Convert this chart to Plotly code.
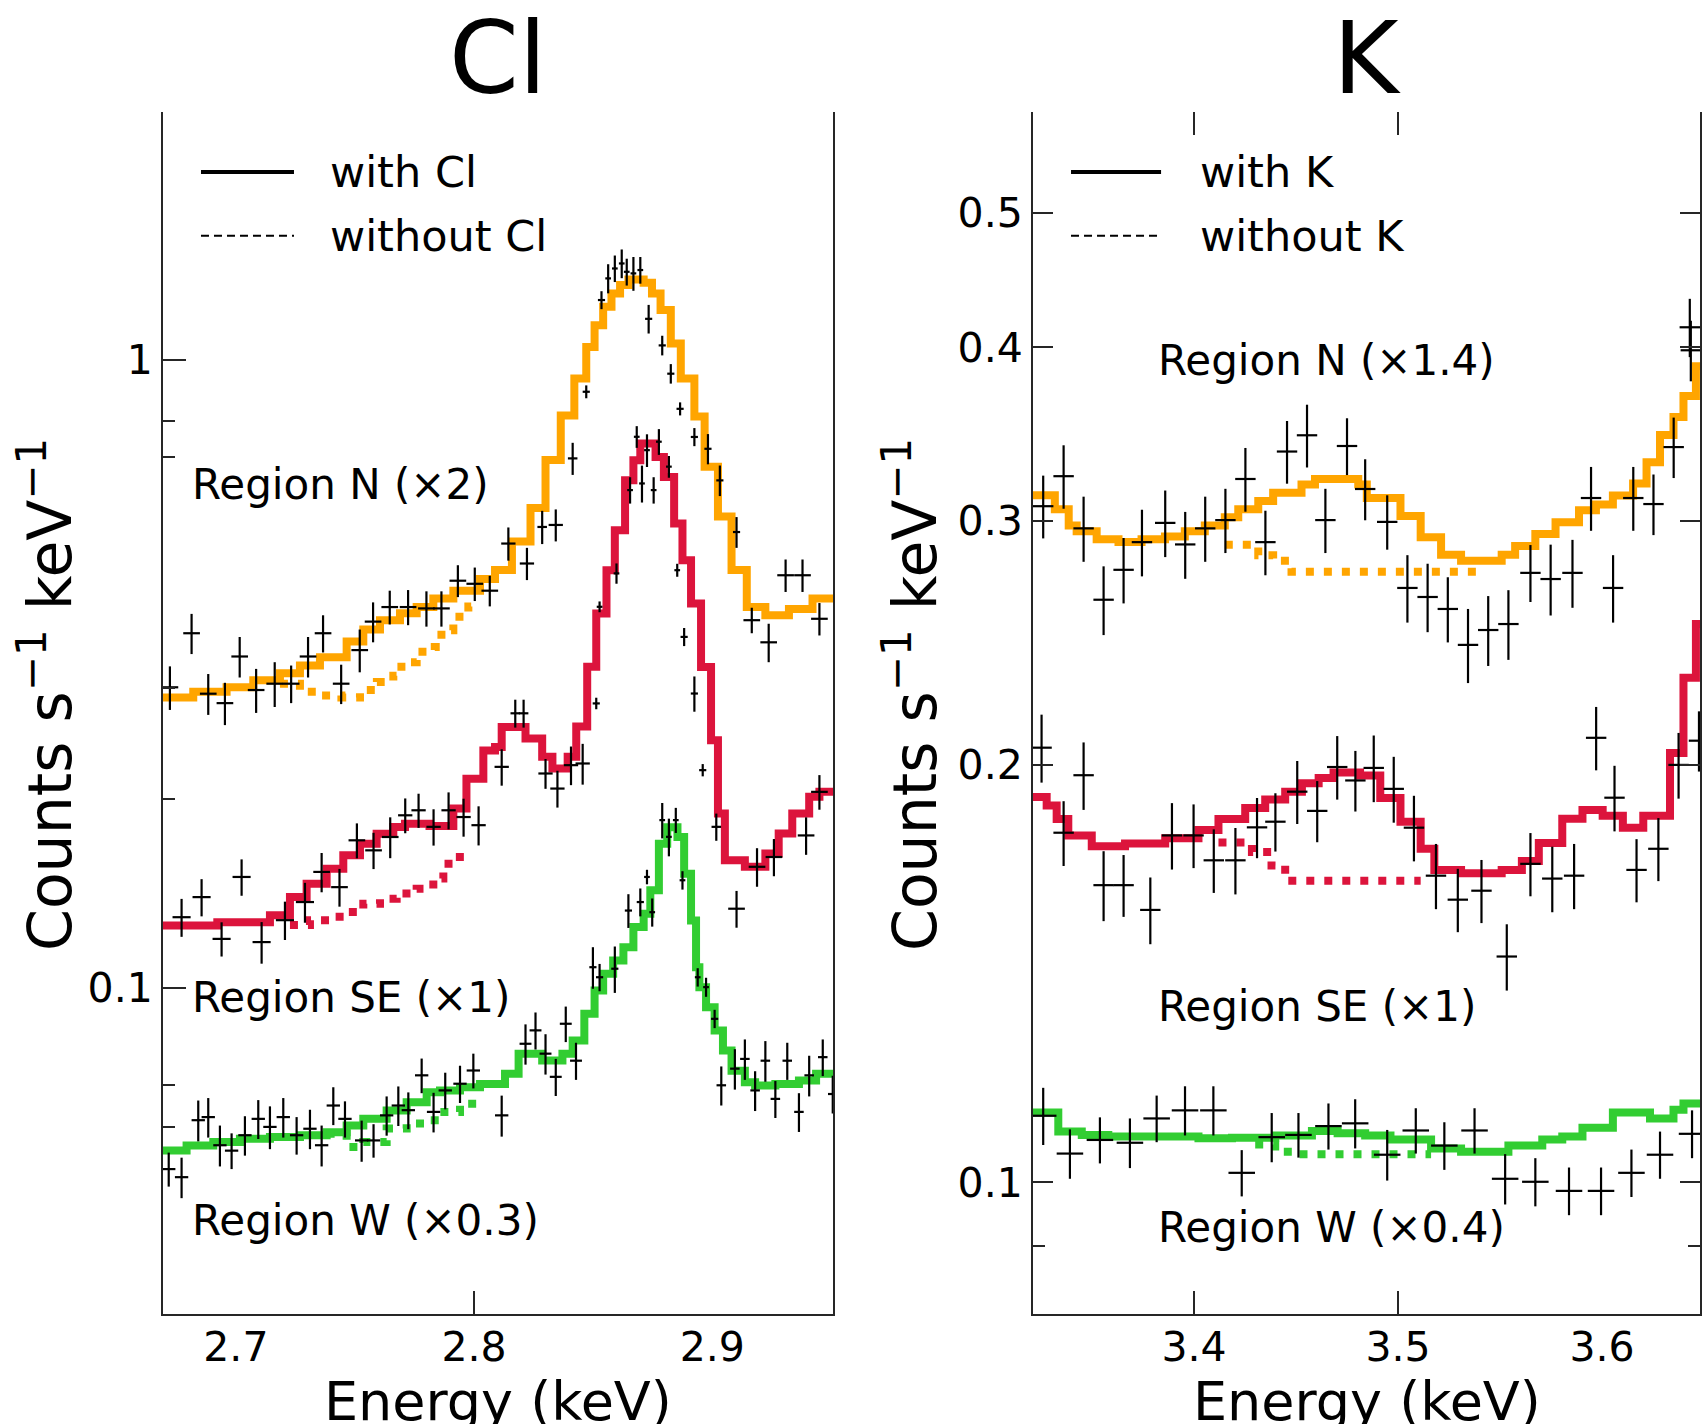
import plotly.graph_objects as go

FONT = "DejaVu Sans"
ORANGE = "#FFA500"
CRIMSON = "#DC143C"
GREEN = "#32CD32"
AXIS = "#262626"
DOTS = "8px,10px"

# ------------------------------------------------------------------ Cl band
cl_xrange = [2.6694, 2.9507]
cl_ylog = [-1.5199, 0.3951]
cl_xticks = [2.7, 2.8, 2.9]
cl_xmarks = [2.8]
cl_yticks = [0.1, 1]
cl_yminor = [0.06, 0.07, 0.2, 0.3, 0.7, 0.8]

# Region N (x2): model with Cl (bin edges in keV, one more edge than values)
cl_n_edges = [2.6681, 2.6821, 2.6961, 2.7073, 2.7185, 2.7269, 2.7353, 2.7465, 2.7535,
              2.7605, 2.7689, 2.7759, 2.7829, 2.7913, 2.8025, 2.8088, 2.8159, 2.8237,
              2.8300, 2.8364, 2.8421, 2.8471, 2.8506, 2.8542, 2.8577, 2.8613, 2.8648,
              2.8712, 2.8747, 2.8783, 2.8826, 2.8868, 2.8925, 2.8968, 2.9024, 2.9081,
              2.9145, 2.9223, 2.9322, 2.9421, 2.9510]
cl_n_model = [0.290, 0.296, 0.301, 0.309, 0.317, 0.326, 0.336, 0.356, 0.372,
              0.385, 0.395, 0.404, 0.417, 0.429, 0.448, 0.463, 0.514, 0.581,
              0.693, 0.816, 0.934, 1.049, 1.136, 1.216, 1.276, 1.317, 1.344,
              1.327, 1.276, 1.201, 1.062, 0.934, 0.813, 0.676, 0.563, 0.463,
              0.404, 0.392, 0.401, 0.417]
# Region N (x2): model without Cl
cl_n_nocl_edges = [2.7185, 2.7269, 2.7353, 2.7443, 2.7521, 2.7592, 2.7661, 2.7695,
                   2.7759, 2.7835, 2.7863, 2.7913, 2.7976, 2.8025]
cl_n_nocl = [0.305, 0.296, 0.292, 0.290, 0.298, 0.307, 0.314, 0.330,
             0.343, 0.349, 0.371, 0.390, 0.405]
# Region N (x2): data
cl_n_e = [2.6723, 2.6814, 2.6884, 2.6954, 2.7016, 2.7085, 2.7163, 2.7232, 2.7303, 2.7366,
          2.7442, 2.7520, 2.7576, 2.7646, 2.7723, 2.7800, 2.7863, 2.7932, 2.8003, 2.8066,
          2.8144, 2.8222, 2.8286, 2.8343, 2.8414, 2.8471, 2.8535, 2.8563, 2.8591, 2.8620,
          2.8641, 2.8669, 2.8698, 2.8733, 2.8790, 2.8826, 2.8865, 2.8925, 2.8982, 2.9032,
          2.9102, 2.9166, 2.9237, 2.9308, 2.9379, 2.9450]
cl_n_de = [0.0035] * 20 + [0.003, 0.003, 0.002, 0.003, 0.002, 0.0015, 0.0015,
           0.0012, 0.0012, 0.0012, 0.0012, 0.0012, 0.0012, 0.0015, 0.0015, 0.0015,
           0.0015, 0.0015, 0.0015, 0.0015, 0.0015, 0.0035, 0.0035, 0.0035, 0.0035, 0.0035]
cl_n_rate = [0.301, 0.367, 0.294, 0.284, 0.337, 0.298, 0.305, 0.305, 0.337, 0.367,
             0.305, 0.345, 0.383, 0.404, 0.404, 0.402, 0.402, 0.445, 0.440, 0.429,
             0.510, 0.474, 0.542, 0.546, 0.697, 0.890, 1.246, 1.349, 1.399, 1.425,
             1.382, 1.374, 1.391, 1.163, 1.055, 0.951, 0.836, 0.754, 0.722, 0.643,
             0.532, 0.385, 0.355, 0.454, 0.454, 0.387]
cl_n_err = [0.024, 0.027, 0.022, 0.022, 0.025, 0.024, 0.025, 0.021, 0.025, 0.025,
            0.022, 0.027, 0.028, 0.025, 0.026, 0.026, 0.026, 0.026, 0.027, 0.024,
            0.031, 0.028, 0.033, 0.032, 0.041, 0.021, 0.041, 0.072, 0.068, 0.075,
            0.068, 0.085, 0.068, 0.061, 0.038, 0.034, 0.020, 0.025, 0.040, 0.036,
            0.030, 0.018, 0.025, 0.027, 0.027, 0.023]

# Region SE (x1): model with Cl
cl_se_edges = [2.6681, 2.6922, 2.7143, 2.7227, 2.7297, 2.7381, 2.7451, 2.7521, 2.7591,
               2.7661, 2.7710, 2.7813, 2.7913, 2.7968, 2.8039, 2.8088, 2.8116, 2.8216,
               2.8286, 2.8329, 2.8393, 2.8429, 2.8475, 2.8513, 2.8556, 2.8591, 2.8634,
               2.8669, 2.8698, 2.8762, 2.8797, 2.8840, 2.8875, 2.8911, 2.8953, 2.8995,
               2.9024, 2.9053, 2.9137, 2.9223, 2.9279, 2.9336, 2.9407, 2.9450, 2.9510]
cl_se_model = [0.1256, 0.1271, 0.1304, 0.1395, 0.1464, 0.1547, 0.1625, 0.1696, 0.1759,
               0.1803, 0.1825, 0.1810, 0.1929, 0.2153, 0.2388, 0.2418, 0.2603, 0.2494,
               0.2332, 0.2234, 0.2332, 0.2606, 0.3246, 0.3946, 0.4625, 0.5357, 0.6433,
               0.6925, 0.7361, 0.7008, 0.6510, 0.5487, 0.4797, 0.4092, 0.3244, 0.2479,
               0.1894, 0.1596, 0.1558, 0.1636, 0.1761, 0.1894, 0.2014, 0.2051]
# Region SE (x1): model without Cl
cl_se_nocl_edges = [2.7227, 2.7311, 2.7395, 2.7465, 2.7535, 2.7605, 2.7675, 2.7759,
                    2.7829, 2.7871, 2.7920, 2.7970]
cl_se_nocl = [0.1258, 0.1281, 0.1297, 0.1320, 0.1361, 0.1386, 0.1412, 0.1438,
              0.1492, 0.1576, 0.1615]
# Region SE (x1): data
cl_se_e = [2.6772, 2.6856, 2.6940, 2.7024, 2.7108, 2.7206, 2.7290, 2.7360, 2.7435, 2.7508,
           2.7578, 2.7648, 2.7711, 2.7767, 2.7830, 2.7893, 2.7956, 2.8019, 2.8116, 2.8173,
           2.8208, 2.8300, 2.8350, 2.8407, 2.8456, 2.8513, 2.8527, 2.8598, 2.8655, 2.8683,
           2.8705, 2.8726, 2.8754, 2.8776, 2.8818, 2.8853, 2.8882, 2.8925, 2.8960, 2.9017,
           2.9102, 2.9188, 2.9259, 2.9394, 2.9450]
cl_se_de = [0.0038] * 7 + [0.0035] * 5 + [0.003] * 7 + [0.002, 0.002] + [0.003] * 4 + \
           [0.0015] + [0.0012] * 10 + [0.0015, 0.0015, 0.0015, 0.002] + [0.0035] * 5
cl_se_rate = [0.1295, 0.1394, 0.1196, 0.1501, 0.1182, 0.1281, 0.1369, 0.1529, 0.1446, 0.1717,
              0.1655, 0.1738, 0.1882, 0.1917, 0.1804, 0.1917, 0.1870, 0.1815, 0.2248, 0.2736,
              0.2736, 0.2194, 0.2076, 0.2262, 0.2276, 0.2837, 0.4044, 0.4571, 0.6205, 0.7545,
              0.6358, 0.7184, 0.6205, 0.7410, 0.6762, 0.4625, 0.3621, 0.2942, 0.2221, 0.1804,
              0.1336, 0.1558, 0.1615, 0.1748, 0.2051]
cl_se_err = [0.0090, 0.0095, 0.0075, 0.0100, 0.0090, 0.0090, 0.0100, 0.0110, 0.0100, 0.0110,
             0.0110, 0.0130, 0.0120, 0.0120, 0.0120, 0.0130, 0.0130, 0.0130, 0.0150, 0.0140,
             0.0140, 0.0120, 0.0140, 0.0160, 0.0170, 0.0060, 0.0080, 0.0170, 0.0300, 0.0300,
             0.0430, 0.0430, 0.0300, 0.0350, 0.0270, 0.0110, 0.0120, 0.0190, 0.0050, 0.0090,
             0.0090, 0.0110, 0.0110, 0.0120, 0.0130]

# Region W (x0.3): model with Cl
cl_w_edges = [2.6681, 2.6793, 2.6905, 2.7017, 2.7143, 2.7269, 2.7381, 2.7465, 2.7535,
              2.7633, 2.7717, 2.7801, 2.7857, 2.7941, 2.8025, 2.8130, 2.8187, 2.8286,
              2.8371, 2.8414, 2.8463, 2.8506, 2.8542, 2.8584, 2.8627, 2.8669, 2.8712,
              2.8740, 2.8776, 2.8811, 2.8854, 2.8882, 2.8911, 2.8932, 2.8946, 2.8974,
              2.9010, 2.9045, 2.9081, 2.9137, 2.9180, 2.9265, 2.9364, 2.9436, 2.9510]
cl_w_model = [0.05504, 0.05607, 0.05677, 0.05745, 0.05780, 0.05817, 0.05886, 0.06031, 0.06183,
              0.06372, 0.06571, 0.06816, 0.06857, 0.06943, 0.07026, 0.07291, 0.07846, 0.07657,
              0.07846, 0.08236, 0.09086, 0.09897, 0.1052, 0.1105, 0.1160, 0.1249, 0.1311,
              0.1429, 0.1695, 0.1802, 0.1738, 0.1519, 0.1280, 0.1078, 0.1002, 0.09311,
              0.08546, 0.07939, 0.07375, 0.07069, 0.06985, 0.07026, 0.07115, 0.07291]
# Region W (x0.3): model without Cl
cl_w_nocl_edges = [2.7381, 2.7465, 2.7535, 2.7633, 2.7717, 2.7801, 2.7857, 2.7941, 2.8025]
cl_w_nocl = [0.0585, 0.05573, 0.05677, 0.05963, 0.06073, 0.06146, 0.06337, 0.06531]
# Region W (x0.3): data
cl_w_e = [2.6718, 2.6772, 2.6842, 2.6884, 2.6933, 2.6982, 2.7038, 2.7094, 2.7143, 2.7199,
          2.7255, 2.7311, 2.7360, 2.7409, 2.7458, 2.7528, 2.7578, 2.7633, 2.7682, 2.7724,
          2.7780, 2.7830, 2.7879, 2.7941, 2.7997, 2.8116, 2.8216, 2.8258, 2.8300, 2.8343,
          2.8385, 2.8428, 2.8499, 2.8527, 2.8591, 2.8648, 2.8698, 2.8726, 2.8748, 2.8790,
          2.8818, 2.8847, 2.8875, 2.8939, 2.8974, 2.9010, 2.9038, 2.9095, 2.9137, 2.9180,
          2.9223, 2.9265, 2.9315, 2.9364, 2.9407, 2.9464, 2.9506]
cl_w_de = [0.0028] * 26 + [0.0025] * 6 + [0.0015] * 5 + [0.0012] * 8 + [0.0015] + [0.002] * 11
cl_w_rate = [0.0514, 0.0499, 0.0615, 0.0622, 0.0561, 0.0550, 0.0582, 0.0618, 0.0600, 0.0622,
             0.0582, 0.0596, 0.0561, 0.0649, 0.0618, 0.0571, 0.0571, 0.0626, 0.0649, 0.0638,
             0.0725, 0.0634, 0.0686, 0.0703, 0.0738, 0.0626, 0.0814, 0.0855, 0.0785, 0.0721,
             0.0876, 0.0765, 0.1078, 0.1039, 0.1072, 0.1327, 0.1369, 0.1501, 0.1319, 0.1849,
             0.1739, 0.1849, 0.1483, 0.1039, 0.1002, 0.0892, 0.0699, 0.0743, 0.0770, 0.0686,
             0.0765, 0.0665, 0.0765, 0.0634, 0.0725, 0.0775, 0.0677]
cl_w_err = [0.0032, 0.0037, 0.0046, 0.0045, 0.0042, 0.0036, 0.0042, 0.0044, 0.0047, 0.0045,
            0.0040, 0.0043, 0.0042, 0.0045, 0.0041, 0.0043, 0.0035, 0.0045, 0.0047, 0.0043,
            0.0046, 0.0046, 0.0046, 0.0048, 0.0047, 0.0047, 0.0060, 0.0058, 0.0058, 0.0049,
            0.0057, 0.0052, 0.0082, 0.0052, 0.0091, 0.0082, 0.0070, 0.0040, 0.0068, 0.0120,
            0.0120, 0.0085, 0.0050, 0.0035, 0.0035, 0.0030, 0.0050, 0.0055, 0.0057, 0.0050,
            0.0057, 0.0045, 0.0052, 0.0045, 0.0054, 0.0052, 0.0047]

# ------------------------------------------------------------------- K band
k_xrange = [3.3211, 3.6480]
k_ylog = [-1.0949, -0.2282]
k_xticks = [3.4, 3.5, 3.6]
k_xmarks = [3.4, 3.5]
k_yticks = [0.1, 0.2, 0.3, 0.4, 0.5]
k_yminor = [0.09]

# Region N (x1.4)
k_n_edges = [3.3200, 3.3318, 3.3386, 3.3425, 3.3523, 3.3630, 3.3743, 3.3858, 3.3955,
             3.4053, 3.4151, 3.4217, 3.4315, 3.4388, 3.4527, 3.4593, 3.4740, 3.4805,
             3.4847, 3.5012, 3.5111, 3.5211, 3.5309, 3.5508, 3.5574, 3.5673, 3.5772,
             3.5887, 3.5970, 3.6053, 3.6152, 3.6218, 3.6284, 3.6350, 3.6399, 3.6460, 3.6500]
k_n_model = [0.3129, 0.3058, 0.2976, 0.2948, 0.2909, 0.2896, 0.2909, 0.2922, 0.2948,
             0.2976, 0.3017, 0.3058, 0.3100, 0.3143, 0.3186, 0.3215, 0.3215, 0.3186,
             0.3115, 0.3024, 0.2919, 0.2835, 0.2807, 0.2835, 0.2876, 0.2934, 0.2992,
             0.3052, 0.3082, 0.3128, 0.3191, 0.3306, 0.3459, 0.3564, 0.3690, 0.3877]
k_n_nok_edges = [3.4151, 3.4315, 3.4388, 3.4478, 3.5408]
k_n_nok = [0.2882, 0.2833, 0.2807, 0.2756]
k_n_e = [3.3261, 3.3361, 3.3459, 3.3557, 3.3655, 3.3745, 3.3859, 3.3957, 3.4055, 3.4154,
         3.4252, 3.4350, 3.4456, 3.4554, 3.4644, 3.4750, 3.4839, 3.4947, 3.5046, 3.5145,
         3.5244, 3.5343, 3.5442, 3.5541, 3.5649, 3.5748, 3.5855, 3.5946, 3.6054, 3.6153,
         3.6252, 3.6351, 3.6430, 3.6435]
k_n_de = 0.005
k_n_rate = [0.3073, 0.3230, 0.2962, 0.2631, 0.2765, 0.2895, 0.2989, 0.2884, 0.2962, 0.3003,
            0.3215, 0.2895, 0.3365, 0.3457, 0.3003, 0.3396, 0.3162, 0.2994, 0.2683, 0.2643,
            0.2591, 0.2441, 0.2502, 0.2527, 0.2751, 0.2723, 0.2751, 0.3115, 0.2683, 0.3115,
            0.3084, 0.3390, 0.4136, 0.3981]
k_n_err = [0.016, 0.017, 0.016, 0.015, 0.015, 0.016, 0.0165, 0.016, 0.016, 0.016,
           0.017, 0.0155, 0.0175, 0.018, 0.016, 0.016, 0.016, 0.0135, 0.015, 0.015,
           0.014, 0.015, 0.0145, 0.0146, 0.013, 0.016, 0.0155, 0.0165, 0.015, 0.0165,
           0.0155, 0.017, 0.020, 0.020]

# Region SE (x1)
k_se_edges = [3.3200, 3.3278, 3.3327, 3.3384, 3.3499, 3.3662, 3.3859, 3.4022, 3.4120,
              3.4251, 3.4349, 3.4447, 3.4529, 3.4611, 3.4684, 3.4814, 3.4913, 3.5012,
              3.5111, 3.5178, 3.5309, 3.5508, 3.5607, 3.5690, 3.5805, 3.5904, 3.6003,
              3.6102, 3.6202, 3.6333, 3.6399, 3.6460, 3.6500]
k_se_model = [0.1896, 0.1870, 0.1828, 0.1779, 0.1747, 0.1755, 0.1771, 0.1795, 0.1828,
              0.1862, 0.1888, 0.1913, 0.1940, 0.1957, 0.1975, 0.1965, 0.1893, 0.1820,
              0.1740, 0.1680, 0.1671, 0.1680, 0.1705, 0.1757, 0.1829, 0.1856, 0.1838,
              0.1802, 0.1838, 0.2040, 0.2311, 0.2527]
k_se_nok_edges = [3.4120, 3.4284, 3.4380, 3.4447, 3.5111]
k_se_nok = [0.1758, 0.1731, 0.1692, 0.1650]
k_se_e = [3.3253, 3.3361, 3.3459, 3.3557, 3.3655, 3.3786, 3.3892, 3.3998, 3.4097, 3.4203,
          3.4309, 3.4399, 3.4506, 3.4604, 3.4702, 3.4791, 3.4881, 3.4979, 3.5078, 3.5186,
          3.5293, 3.5409, 3.5533, 3.5649, 3.5756, 3.5863, 3.5971, 3.6061, 3.6169, 3.6276,
          3.6375, 3.6475]
k_se_de = 0.005
k_se_rate = [0.2058, 0.1787, 0.1966, 0.1638, 0.1638, 0.1572, 0.1779, 0.1779, 0.1707, 0.1707,
             0.1803, 0.1820, 0.1913, 0.1853, 0.1993, 0.1949, 0.1990, 0.1922, 0.1802, 0.1664,
             0.1599, 0.1623, 0.1455, 0.1697, 0.1656, 0.1664, 0.2092, 0.1894, 0.1680, 0.1740,
             0.2000, 0.2082]
k_se_err = [0.0116, 0.0096, 0.0110, 0.0095, 0.0084, 0.0087, 0.0098, 0.0094, 0.0090, 0.0094,
            0.0090, 0.0088, 0.0100, 0.0094, 0.0105, 0.0098, 0.0110, 0.0105, 0.0098, 0.0090,
            0.0084, 0.0085, 0.0080, 0.0089, 0.0090, 0.0090, 0.0110, 0.0103, 0.0088, 0.0091,
            0.0109, 0.0104]

# Region W (x0.4)
k_w_edges = [3.3200, 3.3335, 3.3450, 3.3580, 3.4022, 3.4186, 3.4398, 3.4578, 3.4704,
             3.4839, 3.4963, 3.5162, 3.5309, 3.5541, 3.5707, 3.5805, 3.5904, 3.6053,
             3.6235, 3.6350, 3.6399, 3.6500]
k_w_model = [0.1123, 0.1088, 0.1082, 0.1079, 0.1076, 0.1077, 0.1081, 0.1089, 0.1085,
             0.1081, 0.1074, 0.1058, 0.1052, 0.1063, 0.1074, 0.1079, 0.1095, 0.1123,
             0.1112, 0.1128, 0.1140]
k_w_nok_edges = [3.4300, 3.4398, 3.4480, 3.5162]
k_w_nok = [0.1065, 0.1052, 0.1048]
k_w_e = [3.3261, 3.3392, 3.3539, 3.3686, 3.3817, 3.3956, 3.4095, 3.4234, 3.4381, 3.4512,
         3.4659, 3.4790, 3.4947, 3.5087, 3.5227, 3.5375, 3.5525, 3.5673, 3.5838, 3.5995,
         3.6144, 3.6284, 3.6441]
k_w_de = 0.0065
k_w_rate = [0.1117, 0.1049, 0.1073, 0.1068, 0.1112, 0.1127, 0.1127, 0.1016, 0.1078, 0.1082,
            0.1098, 0.1103, 0.1047, 0.1090, 0.1063, 0.1090, 0.1006, 0.1001, 0.0986, 0.0986,
            0.1016, 0.1047, 0.1084]
k_w_err = [0.0053, 0.0043, 0.0041, 0.0044, 0.0043, 0.0046, 0.0046, 0.0039, 0.0044, 0.0040,
           0.0042, 0.0045, 0.0044, 0.0041, 0.0042, 0.0041, 0.0042, 0.0040, 0.0039, 0.0039,
           0.0040, 0.0041, 0.0043]


def step(edges, vals, color, xa, ya, dotted=False):
    """Histogram-style model curve: one flat segment per energy bin."""
    return go.Scatter(
        x=edges, y=list(vals) + [vals[-1]], mode="lines",
        line=dict(shape="hv", color=color, width=8, dash=DOTS if dotted else "solid"),
        xaxis=xa, yaxis=ya, hoverinfo="skip", showlegend=False)


def spectrum(e, de, rate, err, xa, ya):
    """Binned data drawn as bare crosses (bin half-width and 1-sigma error)."""
    if isinstance(de, list):
        ex = dict(type="data", array=de)
    else:
        ex = dict(type="constant", value=de)
    ex.update(width=0, thickness=2.2, color="black")
    return go.Scatter(
        x=e, y=rate, mode="markers", marker=dict(size=2, color="black"),
        error_x=ex,
        error_y=dict(type="data", array=err, width=0, thickness=2.2, color="black"),
        xaxis=xa, yaxis=ya, showlegend=False)


fig = go.Figure()

for edges, vals, color in [(cl_n_edges, cl_n_model, ORANGE),
                           (cl_se_edges, cl_se_model, CRIMSON),
                           (cl_w_edges, cl_w_model, GREEN)]:
    fig.add_trace(step(edges, vals, color, "x", "y"))
for edges, vals, color in [(cl_n_nocl_edges, cl_n_nocl, ORANGE),
                           (cl_se_nocl_edges, cl_se_nocl, CRIMSON),
                           (cl_w_nocl_edges, cl_w_nocl, GREEN)]:
    fig.add_trace(step(edges, vals, color, "x", "y", dotted=True))
for e, de, r, dr in [(cl_n_e, cl_n_de, cl_n_rate, cl_n_err),
                     (cl_se_e, cl_se_de, cl_se_rate, cl_se_err),
                     (cl_w_e, cl_w_de, cl_w_rate, cl_w_err)]:
    fig.add_trace(spectrum(e, de, r, dr, "x", "y"))

for edges, vals, color in [(k_n_edges, k_n_model, ORANGE),
                           (k_se_edges, k_se_model, CRIMSON),
                           (k_w_edges, k_w_model, GREEN)]:
    fig.add_trace(step(edges, vals, color, "x2", "y2"))
for edges, vals, color in [(k_n_nok_edges, k_n_nok, ORANGE),
                           (k_se_nok_edges, k_se_nok, CRIMSON),
                           (k_w_nok_edges, k_w_nok, GREEN)]:
    fig.add_trace(step(edges, vals, color, "x2", "y2", dotted=True))
for e, de, r, dr in [(k_n_e, k_n_de, k_n_rate, k_n_err),
                     (k_se_e, k_se_de, k_se_rate, k_se_err),
                     (k_w_e, k_w_de, k_w_rate, k_w_err)]:
    fig.add_trace(spectrum(e, de, r, dr, "x2", "y2"))

# empty traces that carry the tick-mark-only overlay axes
fig.add_trace(go.Scatter(x=[None], y=[None], xaxis="x3", yaxis="y", showlegend=False))
fig.add_trace(go.Scatter(x=[None], y=[None], xaxis="x4", yaxis="y2", showlegend=False))

W, H = 1705, 1424
XD1 = [163 / W, 833 / W]
XD2 = [1033 / W, 1700 / W]
YD = [1 - 1314 / H, 1 - 112 / H]

tickfont = dict(family=FONT, size=41, color="black")
base = dict(showgrid=False, zeroline=False, showline=True, linecolor=AXIS, linewidth=2,
            tickfont=tickfont, tickcolor=AXIS, tickwidth=2)
marks_only = dict(showgrid=False, zeroline=False, showline=False, showticklabels=False,
                  ticks="inside", ticklen=23, tickwidth=2, tickcolor=AXIS)

fig.update_layout(
    width=W, height=H, margin=dict(l=0, r=0, t=0, b=0),
    paper_bgcolor="white", plot_bgcolor="white", showlegend=False,
    font=dict(family=FONT, color="black"),
    xaxis=dict(base, domain=XD1, anchor="y", range=cl_xrange, tickmode="array",
               tickvals=cl_xticks, ticktext=[f"{v:.1f}" for v in cl_xticks], ticks="",
               ticklabelstandoff=-4),
    xaxis3=dict(marks_only, overlaying="x", anchor="y", range=cl_xrange,
                tickmode="array", tickvals=cl_xmarks),
    yaxis=dict(base, domain=YD, anchor="x", type="log", range=cl_ylog, tickmode="array",
               tickvals=cl_yticks, ticktext=["0.1", "1"], ticks="inside", ticklen=23,
               mirror=True,
               minor=dict(tickmode="array", tickvals=cl_yminor, ticks="inside",
                          ticklen=12, tickwidth=2, tickcolor=AXIS)),
    xaxis2=dict(base, domain=XD2, anchor="y2", range=k_xrange, tickmode="array",
                tickvals=k_xticks, ticktext=[f"{v:.1f}" for v in k_xticks], ticks="",
                ticklabelstandoff=-4),
    xaxis4=dict(marks_only, overlaying="x2", anchor="y2", range=k_xrange,
                tickmode="array", tickvals=k_xmarks, mirror="ticks"),
    yaxis2=dict(base, domain=YD, anchor="x2", type="log", range=k_ylog, tickmode="array",
                tickvals=k_yticks, ticktext=[f"{v:.1f}" for v in k_yticks],
                ticks="inside", ticklen=20, mirror="ticks",
                minor=dict(tickmode="array", tickvals=k_yminor, ticks="inside",
                           ticklen=12, tickwidth=2, tickcolor=AXIS)),
)

ann = []
ytitle = "Counts s<sup>\u22121</sup> keV<sup>\u22121</sup>"
for xref, name, ytx in [("x", "Cl", 46 / W), ("x2", "K", 911 / W)]:
    ann.append(dict(text=name, xref=f"{xref} domain", yref="paper", x=0.5, y=1 - 58 / H,
                    xanchor="center", yanchor="middle", showarrow=False,
                    font=dict(family=FONT, size=100)))
    ann.append(dict(text="Energy (keV)", xref=f"{xref} domain", yref="paper", x=0.5,
                    y=1 - 1368 / H, xanchor="center", yanchor="top", showarrow=False,
                    font=dict(family=FONT, size=54)))
    ann.append(dict(text=ytitle, xref="paper", yref="paper", x=ytx, y=1 - 695 / H,
                    xanchor="center", yanchor="middle", textangle=-90, showarrow=False,
                    font=dict(family=FONT, size=60)))

# region labels (axis-domain fractions)
regions = [("x", "y", 0.040, 0.6905, "Region N (\u00d72)"),
           ("x", "y", 0.040, 0.263, "Region SE (\u00d71)"),
           ("x", "y", 0.040, 0.078, "Region W (\u00d70.3)"),
           ("x2", "y2", 0.184, 0.793, "Region N (\u00d71.4)"),
           ("x2", "y2", 0.184, 0.256, "Region SE (\u00d71)"),
           ("x2", "y2", 0.184, 0.072, "Region W (\u00d70.4)")]
for xr, yr, xf, yf, txt in regions:
    ann.append(dict(text=txt, xref=f"{xr} domain", yref=f"{yr} domain", x=xf, y=yf,
                    xanchor="left", yanchor="middle", showarrow=False,
                    font=dict(family=FONT, size=42)))

# key: solid = with line, dashed = without line
shapes = []
for xr, yr, x0, x1, xt, el in [("x", "y", 0.0567, 0.1955, 0.246, "Cl"),
                               ("x2", "y2", 0.057, 0.192, 0.247, "K")]:
    shapes.append(dict(type="line", xref=f"{xr} domain", yref=f"{yr} domain",
                       x0=x0, x1=x1, y0=0.950, y1=0.950, line=dict(color="black", width=4)))
    shapes.append(dict(type="line", xref=f"{xr} domain", yref=f"{yr} domain",
                       x0=x0, x1=x1, y0=0.897, y1=0.897,
                       line=dict(color="black", width=2, dash="8px,5px")))
    for yv, txt in [(0.950, f"with {el}"), (0.897, f"without {el}")]:
        ann.append(dict(text=txt, xref=f"{xr} domain", yref=f"{yr} domain", x=xt, y=yv,
                        xanchor="left", yanchor="middle", showarrow=False,
                        font=dict(family=FONT, size=43)))

fig.update_layout(annotations=ann, shapes=shapes)
fig.write_html("out.html")
